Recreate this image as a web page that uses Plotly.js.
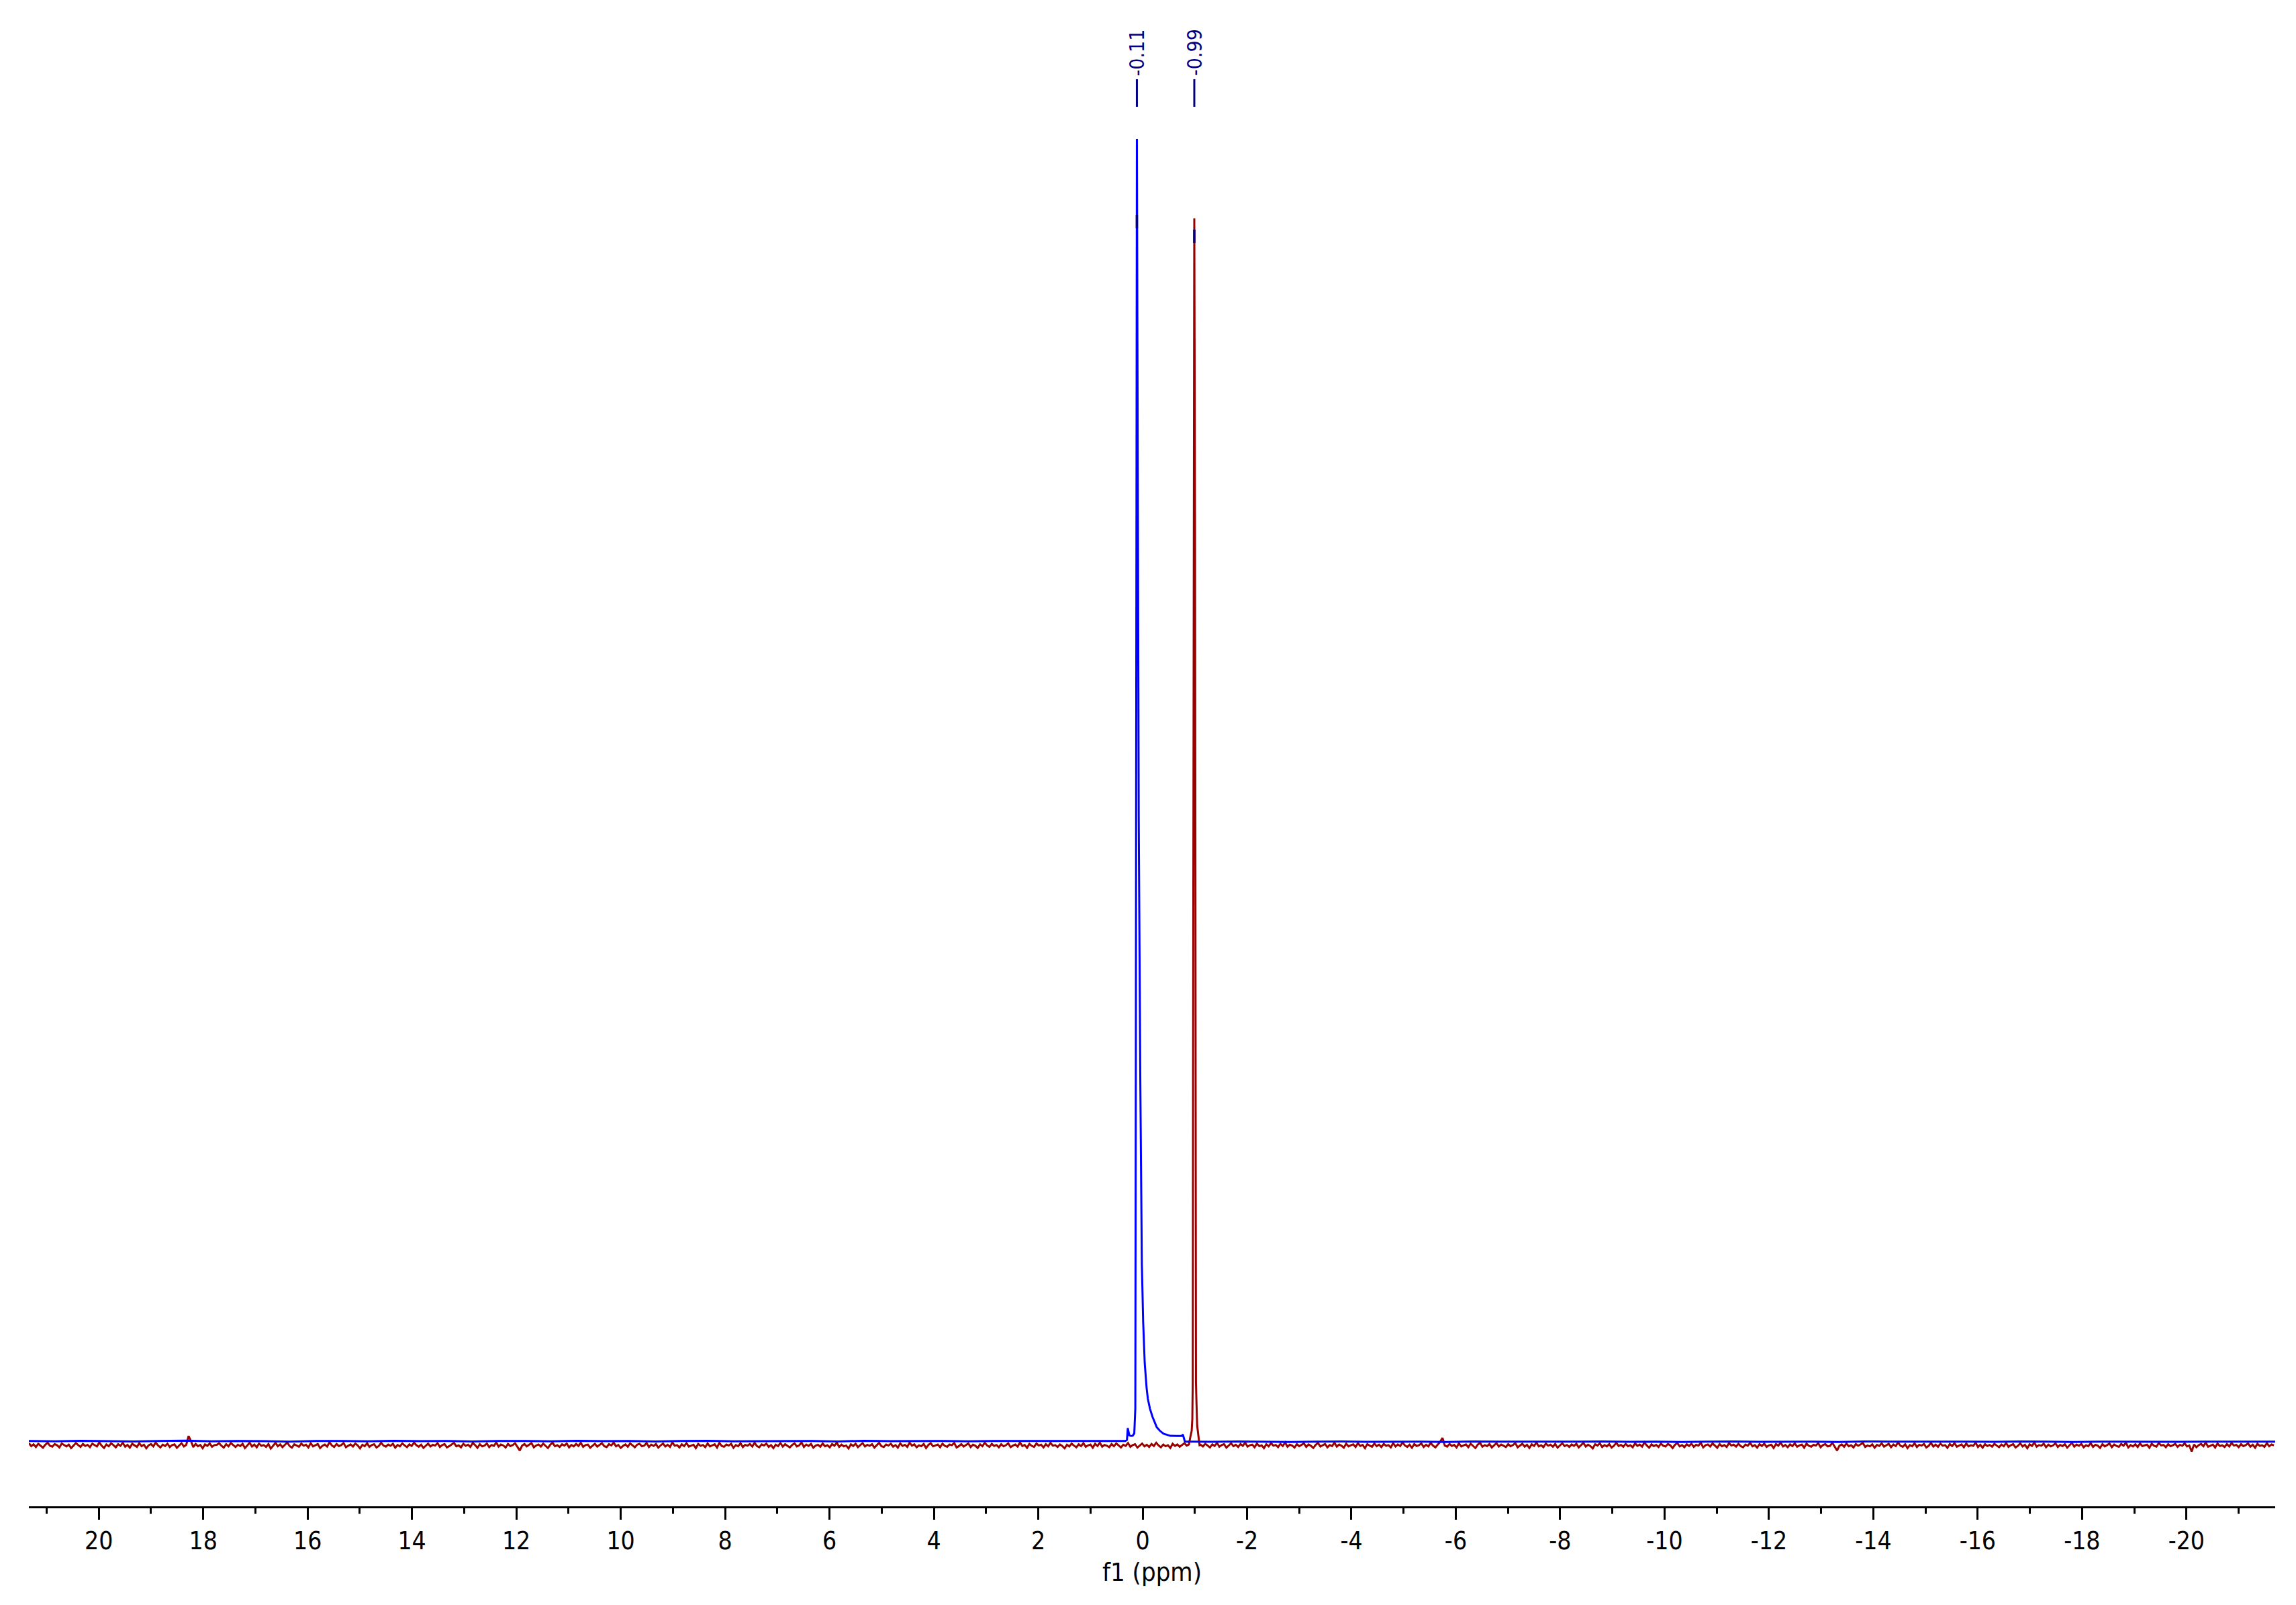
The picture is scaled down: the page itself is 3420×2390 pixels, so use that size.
<!DOCTYPE html>
<html>
<head>
<meta charset="utf-8">
<script src="https://cdn.plot.ly/plotly-3.0.1.min.js"></script>
<style>html,body{margin:0;padding:0;background:#fff;}#chart{width:3420px;height:2390px;}</style>
</head>
<body>
<div id="chart"></div>
<script>
// ---- Data (chemical shift in ppm, intensity in arbitrary units; blue main peak = 100) ----
const peakLabels = ["-0.11", "-0.99"];
const peakLabelPpm = [0.11, -0.99];

// Red spectrum: baseline noise on a 0.045 ppm grid
const redLeftStart = 21.34, redRightStart = -1.11, redStep = 0.045;
const redNoiseLeft = [
-.15,-.38,-.24,-.45,-.2,-.33,-.5,-.27,-.12,-.36,-.42,-.22,-.31,-.48,-.18,-.29,-.4,-.26,-.53,-.34,-.14,-.3,-.44,-.21,-.37,-.28,
-.46,-.19,-.32,-.41,-.09,-.35,-.52,-.25,-.39,-.17,-.3,-.47,-.23,-.36,-.13,-.42,-.28,-.5,-.2,-.34,-.44,-.16,-.38,-.27,-.55,-.31,
-.22,-.4,-.11,-.33,-.48,-.26,-.37,-.19,-.45,-.3,-.24,-.51,-.35,-.15,-.41,-.28,.4,.02,-.46,-.21,-.39,-.29,-.54,-.25,-.36,-.17,
-.43,-.3,-.28,-.16,-.35,-.49,-.23,-.4,-.14,-.31,-.45,-.27,-.38,-.2,-.52,-.33,-.12,-.41,-.26,-.47,-.18,-.36,-.3,-.44,-.22,-.57,
-.34,-.13,-.39,-.25,-.46,-.29,-.1,-.37,-.5,-.24,-.32,-.43,-.19,-.35,-.27,-.48,-.15,-.4,-.31,-.22,-.53,-.36,-.26,-.42,-.08,-.33,
-.45,-.21,-.38,-.3,-.14,-.47,-.35,-.25,-.41,-.18,-.32,-.55,-.28,-.39,-.16,-.44,-.3,-.23,-.49,-.37,-.12,-.34,-.42,-.26,-.36,-.2,
-.5,-.29,-.4,-.17,-.33,-.46,-.24,-.37,-.11,-.31,-.43,-.27,-.52,-.35,-.19,-.41,-.28,-.34,-.15,-.45,-.3,-.22,-.48,-.38,-.25,-.13,
-.39,-.32,-.47,-.2,-.36,-.27,-.44,-.14,-.3,-.51,-.23,-.4,-.34,-.18,-.46,-.29,-.37,-.1,-.42,-.26,-.33,-.49,-.21,-.38,-.3,-.16,
-.43,-.72,-.35,-.22,-.4,-.28,-.15,-.47,-.33,-.25,-.41,-.19,-.36,-.53,-.27,-.12,-.39,-.31,-.45,-.24,-.34,-.18,-.48,-.29,-.4,-.21,
-.37,-.13,-.44,-.3,-.26,-.5,-.35,-.2,-.42,-.28,-.16,-.38,-.46,-.23,-.33,-.11,-.4,-.29,-.52,-.36,-.25,-.43,-.17,-.31,-.47,-.27,
-.2,-.39,-.34,-.14,-.45,-.26,-.37,-.22,-.5,-.32,-.18,-.41,-.28,-.44,-.09,-.35,-.3,-.48,-.24,-.38,-.15,-.42,-.33,-.27,-.53,-.21,
-.36,-.29,-.46,-.17,-.4,-.31,-.24,-.49,-.13,-.37,-.43,-.26,-.34,-.2,-.51,-.3,-.39,-.16,-.45,-.28,-.35,-.22,-.41,-.12,-.38,-.47,
-.25,-.33,-.19,-.44,-.3,-.54,-.27,-.38,-.14,-.42,-.23,-.36,-.48,-.29,-.17,-.4,-.32,-.1,-.45,-.26,-.37,-.21,-.5,-.34,-.28,-.43,
-.18,-.39,-.31,-.47,-.22,-.35,-.12,-.44,-.27,-.4,-.33,-.56,-.24,-.37,-.19,-.46,-.3,-.15,-.41,-.28,-.36,-.23,-.49,-.32,-.13,-.38,
-.45,-.26,-.34,-.2,-.42,-.3,-.5,-.17,-.37,-.28,-.44,-.11,-.35,-.24,-.47,-.32,-.39,-.21,-.53,-.29,-.16,-.4,-.33,-.26,-.46,-.19,
-.36,-.43,-.25,-.31,-.14,-.48,-.38,-.22,-.41,-.3,-.18,-.45,-.27,-.35,-.52,-.24,-.39,-.12,-.33,-.44,-.2,-.37,-.29,-.47,-.23,-.4,
-.31,-.16,-.46,-.34,-.26,-.42,-.1,-.38,-.29,-.51,-.21,-.36,-.44,-.18,-.33,-.27,-.48,-.23,-.4,-.13,-.35,-.3,-.45,-.25,-.37,-.55,
-.28,-.41,-.19,-.34,-.47,-.24,-.38,-.15,-.43,-.32,-.26,-.5,-.2,-.37,-.11,-.42,-.29,-.35,-.46,-.22,-.39,-.17,-.33,-.48,-.27,-.36,
-.14,-.44,-.3,-.23,-.49,-.35,-.18,-.4,-.28,-.45,-.21,-.37,-.12,-.33,-.47,-.26,-.39,-.31,-.52,-.2,-.36,-.25,-.43,-.29,-.16,-.34
];
const redNoiseRight = [
-.27,-.41,-.19,-.35,-.48,-.24,-.37,-.13,-.43,-.3,-.22,-.5,-.33,-.16,-.39,-.28,-.45,-.21,-.36,-.11,-.42,-.31,-.26,-.47,-.18,-.38,
-.32,-.53,-.23,-.4,-.15,-.35,-.29,-.46,-.2,-.37,-.1,-.43,-.27,-.34,-.49,-.22,-.39,-.3,-.17,-.44,-.25,-.36,-.52,-.28,-.14,-.41,
-.33,-.21,-.47,-.3,-.38,-.12,-.42,-.26,-.35,-.5,-.19,-.4,-.31,-.24,-.45,-.16,-.37,-.29,-.54,-.22,-.34,-.43,-.18,-.39,-.27,-.46,
-.2,-.36,-.3,-.48,-.15,-.41,-.25,-.38,-.09,-.33,-.44,-.27,-.51,-.22,-.37,-.31,-.17,-.45,-.28,-.4,-.13,-.35,-.47,-.24,-.05,.25,
-.34,-.42,-.21,-.37,-.29,-.49,-.16,-.4,-.32,-.25,-.46,-.19,-.36,-.53,-.27,-.12,-.43,-.3,-.38,-.22,-.48,-.33,-.15,-.41,-.26,-.35,
-.45,-.23,-.39,-.3,-.14,-.47,-.34,-.2,-.42,-.28,-.52,-.24,-.37,-.11,-.4,-.31,-.46,-.18,-.35,-.27,-.43,-.21,-.5,-.33,-.16,-.38,
-.29,-.44,-.25,-.36,-.19,-.48,-.32,-.13,-.41,-.27,-.38,-.55,-.23,-.34,-.17,-.45,-.3,-.4,-.22,-.49,-.35,-.12,-.37,-.28,-.43,-.2,
-.39,-.31,-.47,-.16,-.36,-.26,-.42,-.1,-.33,-.5,-.24,-.38,-.29,-.45,-.18,-.35,-.41,-.21,-.32,-.53,-.27,-.14,-.4,-.3,-.46,-.23,
-.37,-.19,-.44,-.28,-.34,-.12,-.48,-.31,-.25,-.41,-.17,-.36,-.51,-.22,-.39,-.3,-.45,-.15,-.33,-.27,-.42,-.2,-.38,-.47,-.26,-.35,
-.13,-.4,-.3,-.49,-.23,-.37,-.18,-.44,-.32,-.27,-.52,-.21,-.35,-.11,-.41,-.29,-.46,-.24,-.38,-.16,-.43,-.33,-.26,-.5,-.19,-.36,
-.42,-.28,-.34,-.15,-.47,-.3,-.22,-.4,-.37,-.12,-.45,-.72,-.35,-.25,-.43,-.18,-.39,-.31,-.48,-.21,-.36,-.27,-.14,-.44,-.33,-.4,
-.24,-.5,-.29,-.37,-.17,-.42,-.32,-.2,-.46,-.26,-.38,-.1,-.35,-.43,-.23,-.53,-.3,-.39,-.16,-.45,-.28,-.34,-.21,-.48,-.36,-.13,
-.41,-.27,-.44,-.19,-.35,-.3,-.51,-.22,-.38,-.15,-.43,-.33,-.25,-.47,-.18,-.4,-.31,-.36,-.12,-.45,-.28,-.5,-.23,-.37,-.29,-.42,
-.2,-.34,-.46,-.26,-.39,-.14,-.44,-.31,-.22,-.48,-.36,-.17,-.41,-.28,-.54,-.24,-.37,-.11,-.43,-.3,-.35,-.19,-.47,-.27,-.4,-.32,
-.16,-.45,-.29,-.38,-.23,-.5,-.33,-.13,-.42,-.26,-.36,-.2,-.47,-.31,-.39,-.15,-.44,-.28,-.34,-.52,-.22,-.4,-.3,-.18,-.46,-.25,
-.37,-.43,-.21,-.35,-.12,-.48,-.3,-.4,-.24,-.45,-.17,-.38,-.32,-.27,-.5,-.19,-.36,-.42,-.14,-.33,-.29,-.46,-.23,-.39,-.31,-.2,
-.44,-.28,-.36,-.16,-.41,-.33,-.8,-.25,-.47,-.3,-.21,-.39,-.11,-.43,-.35,-.26,-.49,-.18,-.37,-.32,-.45,-.22,-.4,-.14,-.34,-.28,
-.46,-.23,-.38,-.3,-.17,-.42,-.27,-.5,-.2,-.36,-.31,-.44,-.15,-.39,-.25,-.33
];
// Red peak at -0.99 ppm
const redPeakPpm = [-0.887, -0.913, -0.94, -0.952, -0.96, -0.966, -0.976, -0.99, -1.004, -1.014, -1.022, -1.032, -1.045, -1.06, -1.075, -1.09];
const redPeakInt = [-0.25, 0.3, 0.8, 1.7, 4.5, 28, 70, 93.9, 70, 28, 4.5, 2.9, 1.2, 0.7, 0.1, -0.3];

// Blue spectrum: nearly flat baseline on a 0.5 ppm grid
const blueLeftStart = 21.34, blueRightStart = -0.83, blueStep = 0.5;
const blueBaseLeft = [0.02,-0.01,0.03,0,-0.02,0.01,0.04,-0.01,0.02,0,-0.03,0.01,0.02,-0.01,0.03,0,0.01,-0.02,0.02,0.01,-0.01,0.03,0,0.02,-0.02,0.01,0.03,-0.01,0,0.02,0.01,-0.02,0.03,0,0.01,0.02,-0.01,0.02,0.01,0,0.02,0.01];
const blueBaseRight = [-0.03,-0.05,-0.02,-0.04,-0.06,-0.03,-0.02,-0.05,-0.04,-0.03,-0.06,-0.02,-0.04,-0.05,-0.03,-0.04,-0.02,-0.05,-0.03,-0.06,-0.04,-0.02,-0.05,-0.03,-0.04,-0.06,-0.02,-0.03,-0.05,-0.04,-0.03,-0.05,-0.02,-0.04,-0.06,-0.03,-0.04,-0.02,-0.05,-0.03,-0.04,-0.05,-0.03];
// Blue peak at 0.11 ppm with a tail to higher field
const bluePeakPpm = [0.33, 0.30, 0.285, 0.27, 0.255, 0.22, 0.19, 0.16, 0.14, 0.13, 0.12, 0.11, 0.095, 0.075, 0.045, 0.015, -0.01, -0.04, -0.076, -0.10, -0.14, -0.19, -0.27, -0.33, -0.40, -0.47, -0.53, -0.65, -0.75, -0.77, -0.79, -0.81];
const bluePeakInt = [0.02, 0.1, 1.0, 0.6, 0.45, 0.4, 0.42, 0.6, 2.5, 30, 80, 100, 78, 48, 28, 13.6, 9.2, 6.0, 4.1, 3.25, 2.5, 1.86, 1.08, 0.8, 0.57, 0.47, 0.41, 0.40, 0.40, 0.52, 0.3, -0.03];

const tickVals = [20,18,16,14,12,10,8,6,4,2,0,-2,-4,-6,-8,-10,-12,-14,-16,-18,-20];

// ---- Build traces ----
function gridX(start, step, n) { const a = []; for (let i = 0; i < n; i++) a.push(+(start - i * step).toFixed(4)); return a; }

const redX = gridX(redLeftStart, redStep, redNoiseLeft.length)
  .concat(redPeakPpm, gridX(redRightStart, redStep, redNoiseRight.length));
const redY = redNoiseLeft.concat(redPeakInt, redNoiseRight);

const blueLeftX = gridX(blueLeftStart, blueStep, blueBaseLeft.length).filter(v => v > 0.33);
const blueX = blueLeftX.concat(bluePeakPpm, gridX(blueRightStart, blueStep, blueBaseRight.length));
const blueY = blueBaseLeft.slice(0, blueLeftX.length).concat(bluePeakInt, blueBaseRight);

const traces = [
  { x: redX, y: redY, type: 'scatter', mode: 'lines', line: { color: '#990000', width: 3 }, hoverinfo: 'skip' },
  { x: blueX, y: blueY, type: 'scatter', mode: 'lines', line: { color: '#0000FF', width: 3 }, hoverinfo: 'skip' }
];

// ---- Layout ----
const H = 2243; // plot-area height in px (for paper-coordinate placements)
const pp = py => (H - py) / H;
const navy = '#000080';
const FONT = '"DejaVu Sans Condensed", "DejaVu Sans", sans-serif';

const annotations = peakLabels.map((t, i) => ({
  x: peakLabelPpm[i], xref: 'x', y: pp(78), yref: 'paper',
  text: t, textangle: -90, showarrow: false, xanchor: 'center', yanchor: 'middle',
  font: { family: FONT, size: 30, color: navy }
}));
const markY = [[118, 159], [118, 159]];
const shapes = [];
peakLabelPpm.forEach((p, i) => {
  shapes.push({ type: 'line', xref: 'x', yref: 'paper', x0: p, x1: p, y0: pp(markY[i][1]), y1: pp(markY[i][0]), line: { color: navy, width: 3 } });
});
shapes.push({ type: 'line', xref: 'x', yref: 'paper', x0: peakLabelPpm[0], x1: peakLabelPpm[0], y0: pp(340), y1: pp(320), line: { color: navy, width: 3.5 } });
shapes.push({ type: 'line', xref: 'x', yref: 'paper', x0: peakLabelPpm[1], x1: peakLabelPpm[1], y0: pp(362), y1: pp(342), line: { color: navy, width: 3.5 } });

const layout = {
  width: 3420, height: 2390,
  margin: { l: 43, r: 31, t: 0, b: 147 },
  paper_bgcolor: '#ffffff', plot_bgcolor: '#ffffff',
  showlegend: false,
  font: { family: FONT, color: '#000' },
  xaxis: {
    range: [21.34, -21.70],
    showline: true, linecolor: '#000', linewidth: 3,
    showgrid: false, zeroline: false,
    tickmode: 'array', tickvals: tickVals, ticktext: tickVals.map(v => String(v)),
    ticks: 'outside', ticklen: 17, tickwidth: 3, tickcolor: '#000',
    minor: { tickmode: 'linear', tick0: 1, dtick: 2, ticks: 'outside', ticklen: 8, tickwidth: 3, tickcolor: '#000', showgrid: false },
    tickfont: { family: FONT, size: 37, color: '#000' },
    title: { text: 'f1 (ppm)', font: { family: FONT, size: 38, color: '#000' }, standoff: 12 }
  },
  yaxis: { visible: false, range: [-5.0, 110.68], fixedrange: true },
  annotations: annotations,
  shapes: shapes
};

Plotly.newPlot('chart', traces, layout, { staticPlot: true, displayModeBar: false });
</script>
</body>
</html>
